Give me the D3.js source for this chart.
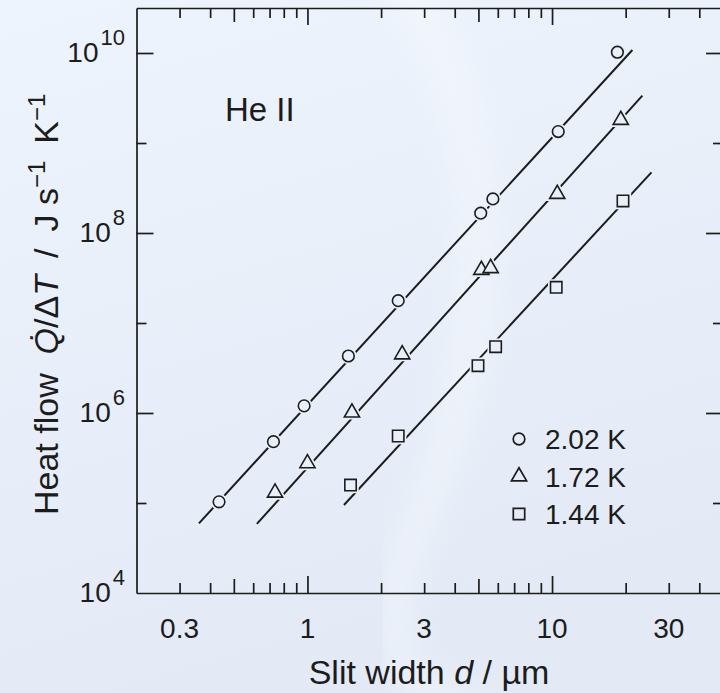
<!DOCTYPE html>
<html>
<head>
<meta charset="utf-8">
<script src="https://cdn.jsdelivr.net/npm/d3@7"></script>
<style>
  body { margin: 0; background: #e8eef9; }
  svg { display: block; font-family: "Liberation Sans", Arial, Helvetica, sans-serif; }
</style>
</head>
<body>
<script>
let seriesLabels = ["2.02 K", "1.72 K", "1.44 K"];

let width202 = [0.435, 0.726, 0.969, 1.47, 2.35, 5.11, 5.73, 10.6, 18.5];
let heat202 = [1.03e5, 4.8e5, 1.2e6, 4.3e6, 1.77e7, 1.66e8, 2.39e8, 1.34e9, 1.02e10];

let width172 = [0.737, 1.0, 1.52, 2.44, 5.14, 5.61, 10.5, 19.1];
let heat172 = [1.3e5, 2.76e5, 1.01e6, 4.47e6, 3.88e7, 4.06e7, 2.71e8, 1.8e9];

let width144 = [1.5, 2.35, 4.98, 5.88, 10.4, 19.5];
let heat144 = [1.58e5, 5.55e5, 3.36e6, 5.46e6, 2.49e7, 2.27e8];

// fitted straight lines (start / end)
let fitWidth202 = [0.36, 21.3];
let fitHeat202 = [5.94e4, 1.08e10];
let fitWidth172 = [0.621, 23.4];
let fitHeat172 = [5.85e4, 3.36e9];
let fitWidth144 = [1.41, 25.5];
let fitHeat144 = [9.5e4, 4.72e8];

// tick labels
let xTickLabels = [0.3, 1, 3, 10, 30];
let yTickExponents = [4, 6, 8, 10];

let ink = "#1c1c1c";
let bg = "#e9eff9";

let svg = d3.select("body").append("svg")
    .attr("width", 720)
    .attr("height", 693);

// background with a soft gradient
let defs = svg.append("defs");
let grad = defs.append("linearGradient")
    .attr("id", "bgGrad")
    .attr("x1", 0).attr("y1", 0).attr("x2", 0.3).attr("y2", 1);
grad.append("stop").attr("offset", "0%").attr("stop-color", "#eef4fd");
grad.append("stop").attr("offset", "100%").attr("stop-color", "#e3eaf6");
defs.append("filter").attr("id", "blur")
    .append("feGaussianBlur").attr("stdDeviation", 16);

svg.append("rect")
    .attr("width", 720).attr("height", 693)
    .attr("fill", "url(#bgGrad)");

// faint whitish swirl in the backdrop
svg.append("path")
    .attr("d", "M 400 -20 C 500 120, 500 330, 420 520 S 470 700, 500 720")
    .attr("fill", "none")
    .attr("stroke", "#ffffff")
    .attr("stroke-width", 30)
    .attr("opacity", 0.35)
    .attr("filter", "url(#blur)");

// scales
let x = d3.scaleLog().domain([0.2, 50]).range([136.5, 723]);
let y = d3.scaleLog().domain([1e4, Math.pow(10, 10.5)]).range([593, 8]);

let plotLeft = x.range()[0], plotRight = x.range()[1];
let plotBottom = y.range()[0], plotTop = y.range()[1];

// x tick lengths: decades long, fives medium, rest short
function xTickLen(v) {
    let l = Math.log10(v);
    if (Math.abs(l - Math.round(l)) < 1e-6) return 17;
    let m = v / Math.pow(10, Math.floor(l + 1e-9));
    if (Math.abs(m - 5) < 1e-6) return 14;
    return 10;
}
function yTickLen(v) {
    let e = Math.round(Math.log10(v));
    return e % 2 === 0 ? 17 : 10;
}

let xTicks = x.ticks().filter(v => v > 0.2 + 1e-9 && v < 50 - 1e-9);
let yTicks = d3.range(5, 11).map(e => Math.pow(10, e));

// bottom axis (ticks pointing inward)
let gx = svg.append("g")
    .attr("transform", "translate(0," + plotBottom + ")")
    .call(d3.axisBottom(x).tickValues(xTicks).tickSize(-10).tickSizeOuter(0).tickFormat(""));
gx.selectAll(".tick line").attr("y2", d => -xTickLen(d));

// top axis
let gxTop = svg.append("g")
    .attr("transform", "translate(0," + plotTop + ")")
    .call(d3.axisTop(x).tickValues(xTicks).tickSize(-10).tickSizeOuter(0).tickFormat(""));
gxTop.selectAll(".tick line").attr("y2", d => xTickLen(d));

// left axis
let gy = svg.append("g")
    .attr("transform", "translate(" + plotLeft + ",0)")
    .call(d3.axisLeft(y).tickValues(yTicks).tickSize(-10).tickSizeOuter(0).tickFormat(""));
gy.selectAll(".tick line").attr("x2", d => yTickLen(d));

// right axis
let gyRight = svg.append("g")
    .attr("transform", "translate(" + plotRight + ",0)")
    .call(d3.axisRight(y).tickValues(yTicks).tickSize(-10).tickSizeOuter(0).tickFormat(""));
gyRight.selectAll(".tick line").attr("x2", d => -yTickLen(d));

svg.selectAll(".domain, .tick line")
    .attr("stroke", ink)
    .attr("stroke-width", 1.7);

// x tick labels
svg.append("g").selectAll("text")
    .data(xTickLabels)
    .join("text")
    .attr("x", d => x(d))
    .attr("y", 638)
    .attr("text-anchor", "middle")
    .attr("font-size", 28)
    .attr("fill", ink)
    .text(d => d);

// y tick labels, 10 with superscript exponent
let yLab = svg.append("g").selectAll("text")
    .data(yTickExponents)
    .join("text")
    .attr("x", 125)
    .attr("y", d => y(Math.pow(10, d)) + 9)
    .attr("text-anchor", "end")
    .attr("font-size", 28)
    .attr("fill", ink);
yLab.append("tspan").text("10");
yLab.append("tspan")
    .attr("font-size", 22)
    .attr("dy", -17)
    .attr("dx", 2)
    .text(d => d);

// fitted lines
let line = d3.line()
    .x(d => x(d[0]))
    .y(d => y(d[1]));

let fits = [
    d3.zip(fitWidth202, fitHeat202),
    d3.zip(fitWidth172, fitHeat172),
    d3.zip(fitWidth144, fitHeat144)
];

svg.append("g").selectAll("path")
    .data(fits)
    .join("path")
    .attr("d", line)
    .attr("fill", "none")
    .attr("stroke", ink)
    .attr("stroke-width", 2);

// markers
let symbolTypes = [d3.symbolCircle, d3.symbolTriangle, d3.symbolSquare];
let symbolSizes = [106, 100, 130];
let points = [
    d3.zip(width202, heat202),
    d3.zip(width172, heat172),
    d3.zip(width144, heat144)
];

points.forEach(function (pts, i) {
    let sym = d3.symbol().type(symbolTypes[i]).size(symbolSizes[i]);
    let g = svg.append("g");
    // halo so the fit line breaks near each marker
    g.selectAll("path.halo")
        .data(pts)
        .join("path")
        .attr("class", "halo")
        .attr("transform", d => "translate(" + x(d[0]) + "," + y(d[1]) + ")")
        .attr("d", sym)
        .attr("fill", bg)
        .attr("stroke", bg)
        .attr("stroke-width", 5);
    g.selectAll("path.mark")
        .data(pts)
        .join("path")
        .attr("class", "mark")
        .attr("transform", d => "translate(" + x(d[0]) + "," + y(d[1]) + ")")
        .attr("d", sym)
        .attr("fill", bg)
        .attr("stroke", ink)
        .attr("stroke-width", 1.6);
});

// legend
let legend = svg.append("g")
    .attr("transform", "translate(519,439)");
seriesLabels.forEach(function (lab, i) {
    let row = legend.append("g").attr("transform", "translate(0," + (i * 37.5) + ")");
    row.append("path")
        .attr("d", d3.symbol().type(symbolTypes[i]).size(symbolSizes[i])())
        .attr("fill", "none")
        .attr("stroke", ink)
        .attr("stroke-width", 1.7);
    row.append("text")
        .attr("x", 26)
        .attr("y", 10)
        .attr("font-size", 28)
        .attr("fill", ink)
        .text(lab);
});

// He II label
svg.append("text")
    .attr("x", 225)
    .attr("y", 121)
    .attr("font-size", 33)
    .attr("fill", ink)
    .text("He II");

// x axis title
let xTitle = svg.append("text")
    .attr("x", 429)
    .attr("y", 684)
    .attr("text-anchor", "middle")
    .attr("font-size", 34)
    .attr("fill", ink);
xTitle.append("tspan").text("Slit width ");
xTitle.append("tspan").attr("font-style", "italic").text("d");
xTitle.append("tspan").text(" / \u00b5m");

// y axis title, starts at the bottom and reads upward
let yTitle = svg.append("text")
    .attr("transform", "translate(58,515) rotate(-90)")
    .attr("text-anchor", "start")
    .attr("font-size", 34)
    .attr("fill", ink)
    .style("white-space", "pre");
yTitle.append("tspan").text("Heat flow  ");
yTitle.append("tspan").attr("font-style", "italic").text("Q\u0307");
yTitle.append("tspan").text("/\u0394");
yTitle.append("tspan").attr("font-style", "italic").text("T");
yTitle.append("tspan").text("\u2002/\u2002J s");
yTitle.append("tspan").attr("font-size", 24).attr("dy", -13).text("\u22121");
yTitle.append("tspan").attr("dy", 13).text("\u2002K");
yTitle.append("tspan").attr("font-size", 24).attr("dy", -13).text("\u22121");
</script>
</body>
</html>
